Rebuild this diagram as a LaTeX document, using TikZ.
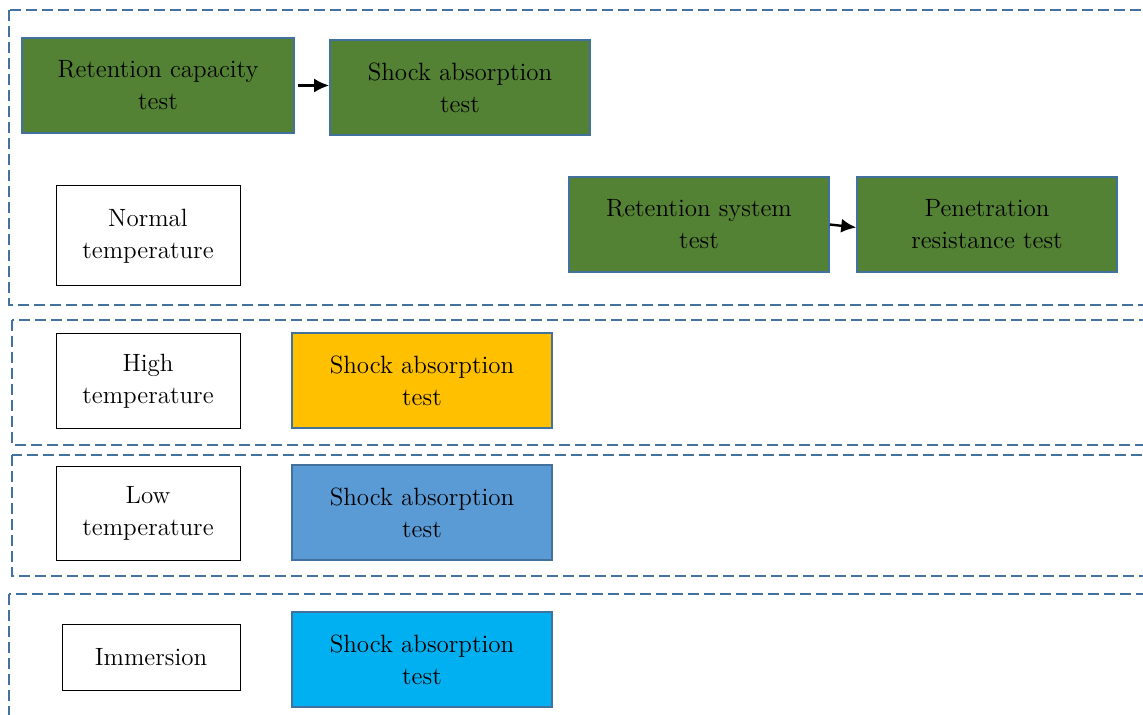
\documentclass[tikz,border=0pt]{standalone}
\usetikzlibrary{arrows.meta}
\definecolor{bordblue}{HTML}{41719C}
\definecolor{dashblue}{HTML}{4472A0}
\definecolor{gfill}{HTML}{548235}
\definecolor{yfill}{HTML}{FFC000}
\definecolor{bfill}{HTML}{5B9BD5}
\definecolor{cfill}{HTML}{00B0F0}
\tikzset{
  lbl/.style={font=\fontsize{12.5}{16}\selectfont, align=center, inner sep=0pt},
  testbox/.style={lbl, draw=bordblue, line width=0.8pt},
  condbox/.style={lbl, draw=black, fill=white, line width=0.5pt},
  group/.style={draw=dashblue, line width=1pt, dash pattern=on 5.5pt off 2.5pt},
  flow/.style={-{Latex[length=7.5pt,width=7pt]}, line width=1.2pt, black}
}
\begin{document}
\begin{tikzpicture}[x=0.5pt,y=-0.5pt]
\useasboundingbox (0,0) rectangle (1143,715);
\clip (0,0) rectangle (1143,715);
\fill[white] (0,0) rectangle (1143,715);
% dashed groups
\draw[group] (9,10) rectangle (1160,305);
\draw[group] (12,320) rectangle (1160,445);
\draw[group] (12,455) rectangle (1160,576);
\draw[group] (9,594) rectangle (1160,740);
% normal temperature group
\node[testbox, fill=gfill, minimum width=136pt, minimum height=47.5pt] (rc) at (158,85.5) {Retention capacity\\test};
\node[testbox, fill=gfill, minimum width=130pt, minimum height=47.5pt] (sa1) at (460,87.5) {Shock absorption\\test};
\node[condbox, minimum width=92pt, minimum height=50pt] (nt) at (148,236) {Normal\\temperature};
\node[testbox, fill=gfill, minimum width=130pt, minimum height=47.5pt] (rs) at (699,224.5) {Retention system\\test};
\node[testbox, fill=gfill, minimum width=130pt, minimum height=47.5pt] (pr) at (987,224.5) {Penetration\\resistance test};
\draw[flow] (rc.east) ++(1.5pt,0) -- (sa1.west |- rc.east);
\draw[flow] (rs.east) -- ([yshift=-1.5pt]pr.west);
% high temperature
\node[condbox, minimum width=92pt, minimum height=47pt] (ht) at (148,381) {High\\temperature};
\node[testbox, fill=yfill, minimum width=130pt, minimum height=47.5pt] (sa2) at (422,380.5) {Shock absorption\\test};
% low temperature
\node[condbox, minimum width=92pt, minimum height=47pt] (lt) at (148,513) {Low\\temperature};
\node[testbox, fill=bfill, minimum width=130pt, minimum height=47.5pt] (sa3) at (422,512.5) {Shock absorption\\test};
% immersion
\node[condbox, minimum width=89pt, minimum height=33pt] (im) at (151,657) {Immersion};
\node[testbox, fill=cfill, minimum width=130pt, minimum height=47.5pt] (sa4) at (422,659.5) {Shock absorption\\test};
\end{tikzpicture}
\end{document}
